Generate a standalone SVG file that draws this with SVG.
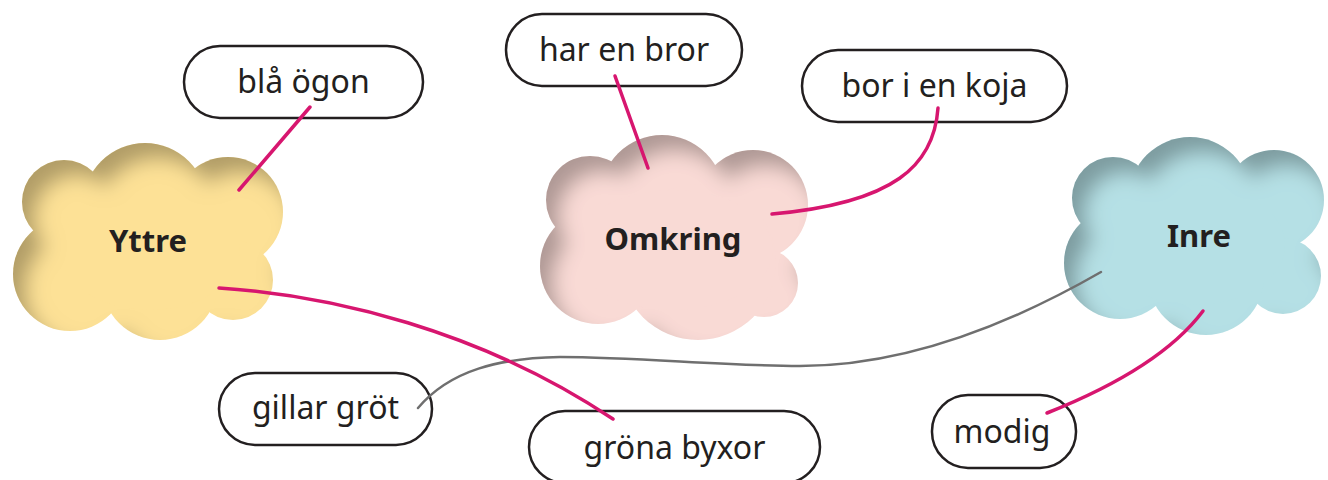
<svg xmlns="http://www.w3.org/2000/svg" width="1328" height="480" viewBox="0 0 1328 480">
<style>
.pill{fill:#fff;stroke:#231f20;stroke-width:2.5}
.pt{font-family:"Noto Sans","Liberation Sans",sans-serif;font-size:32px;fill:#231f20;text-anchor:middle}
.ct{font-family:"Noto Sans","Liberation Sans",sans-serif;font-size:31px;font-weight:bold;fill:#231f20;text-anchor:middle}
.pink{fill:none;stroke:#d7166f;stroke-width:3.5;stroke-linecap:round}
.gray{fill:none;stroke:#6f6f6f;stroke-width:2.5;stroke-linecap:round}
</style>
<defs>
<filter id="inner" x="-10%" y="-10%" width="120%" height="120%">
  <feGaussianBlur in="SourceAlpha" stdDeviation="10" result="b"/>
  <feOffset in="b" dx="13" dy="16" result="o"/>
  <feComposite in="SourceAlpha" in2="o" operator="out" result="edge"/>
  <feFlood flood-color="#000" flood-opacity="0.55"/>
  <feComposite in2="edge" operator="in" result="sh"/>
  <feMerge><feMergeNode in="SourceGraphic"/><feMergeNode in="sh"/></feMerge>
</filter>
</defs>

<g id="cloud-yttre">
  <g fill="#fde196" filter="url(#inner)">
    <circle cx="64" cy="202" r="42"/>
    <circle cx="145" cy="205" r="62"/>
    <circle cx="228" cy="212" r="55"/>
    <circle cx="233" cy="280" r="40"/>
    <circle cx="160" cy="282" r="58"/>
    <circle cx="70" cy="274" r="57"/>
    <ellipse cx="150" cy="250" rx="90" ry="60"/>
  </g>
  <text class="ct" x="148" y="252">Yttre</text>
</g>

<g id="cloud-omkring">
  <g fill="#f9dad5" filter="url(#inner)">
    <circle cx="590" cy="200" r="44"/>
    <circle cx="662" cy="197" r="62"/>
    <circle cx="753" cy="205" r="55"/>
    <circle cx="764" cy="283" r="34"/>
    <circle cx="698" cy="262" r="78"/>
    <circle cx="598" cy="266" r="58"/>
    <ellipse cx="673" cy="250" rx="100" ry="60"/>
  </g>
  <text class="ct" x="673" y="250">Omkring</text>
</g>

<g id="cloud-inre">
  <g fill="#b5e0e5" filter="url(#inner)">
    <circle cx="1113" cy="198" r="41"/>
    <circle cx="1190" cy="198" r="61"/>
    <circle cx="1274" cy="200" r="50"/>
    <circle cx="1283" cy="276" r="38"/>
    <circle cx="1206" cy="277" r="58"/>
    <circle cx="1120" cy="263" r="56"/>
    <ellipse cx="1195" cy="245" rx="90" ry="60"/>
  </g>
  <text class="ct" x="1199" y="247">Inre</text>
</g>

<g id="pill-bla-ogon">
  <rect class="pill" x="184" y="46" width="239" height="72" rx="36"/>
  <text class="pt" x="303.5" y="93">blå ögon</text>
</g>
<g id="pill-har-en-bror">
  <rect class="pill" x="506" y="14" width="236" height="72" rx="36"/>
  <text class="pt" x="624" y="61">har en bror</text>
</g>
<g id="pill-bor-i-en-koja">
  <rect class="pill" x="802" y="50" width="265" height="72" rx="36"/>
  <text class="pt" x="934.5" y="97">bor i en koja</text>
</g>
<g id="pill-gillar-grot">
  <rect class="pill" x="219" y="373" width="213" height="72" rx="36"/>
  <text class="pt" x="325.5" y="419">gillar gröt</text>
</g>
<g id="pill-grona-byxor">
  <rect class="pill" x="529" y="411" width="291" height="72" rx="36"/>
  <text class="pt" x="674.5" y="459">gröna byxor</text>
</g>
<g id="pill-modig">
  <rect class="pill" x="932" y="395" width="144" height="73" rx="36"/>
  <text class="pt" x="1002" y="443">modig</text>
</g>

<g id="connectors">
  <path class="gray" d="M418,408 C450,370 500,358 560,357 C640,357 720,366 800,366 C900,366 1000,330 1101,272"/>
  <path class="pink" d="M310,107 L239,190"/>
  <path class="pink" d="M615,76 L648,168"/>
  <path class="pink" d="M938,108 C934,165 895,203 772,214"/>
  <path class="pink" d="M219,288 C330,295 480,330 613,419"/>
  <path class="pink" d="M1047,413 C1110,388 1170,355 1203,311"/>
</g>
</svg>
